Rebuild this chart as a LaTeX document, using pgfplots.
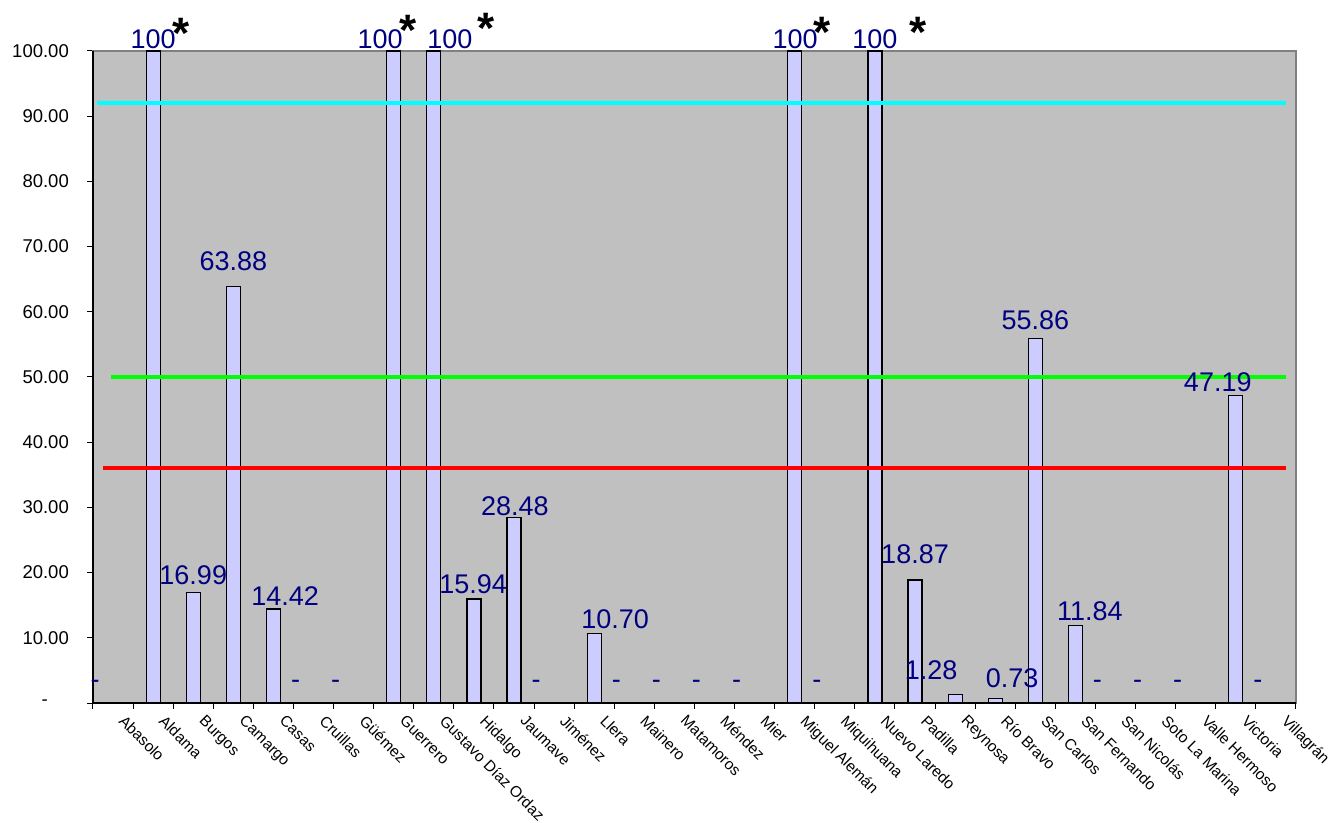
\documentclass[border=0pt]{standalone}
\usepackage{fontspec}
\setmainfont{Liberation Sans}
\usepackage{pgfplots}
\pgfplotsset{compat=1.18}
\definecolor{plotbg}{RGB}{192,192,192}
\definecolor{barfill}{RGB}{204,204,255}
\definecolor{lbl}{RGB}{0,0,128}
\definecolor{framegray}{RGB}{128,128,128}
\definecolor{lcyan}{RGB}{0,255,255}
\definecolor{lgreen}{RGB}{0,255,0}
\definecolor{lred}{RGB}{255,0,0}
\newcommand\lblfont{\fontsize{27}{27}\selectfont}
\newcommand\astfont{\fontsize{44}{44}\selectfont\bfseries}
\tikzset{
  vlab/.style={anchor=base, inner sep=0pt, text=lbl, font=\lblfont},
  ast/.style={anchor=north, inner sep=0pt, text=black, font=\astfont},
}
\begin{document}
\begin{tikzpicture}
\useasboundingbox (0,0) rectangle (1332pt,822pt);
\begin{axis}[
  at={(93pt,119pt)}, anchor=south west,
  scale only axis, width=1203pt, height=652pt,
  xmin=-0.5, xmax=29.5, ymin=0, ymax=100,
  clip=false,
  axis background/.style={fill=plotbg},
  axis line style={draw=framegray, line width=1.5pt},
  xtick={-0.5,0.5,...,29.5}, xticklabels={},
  extra x ticks={0,...,29},
  extra x tick labels={Abasolo,Aldama,Burgos,Camargo,Casas,Cruillas,Güémez,Guerrero,Gustavo Díaz Ordaz,Hidalgo,Jaumave,Jiménez,Llera,Mainero,Matamoros,Méndez,Mier,Miguel Alemán,Miquihuana,Nuevo Laredo,Padilla,Reynosa,Río Bravo,San Carlos,San Fernando,San Nicolás,Soto La Marina,Valle Hermoso,Victoria,Villagrán},
  extra x tick style={major tick length=0pt, tick label style={font=\fontsize{15.5}{15.5}\selectfont, inner sep=0pt, xshift=13pt, yshift=-11pt, rotate=-45, anchor=north west}},
  xtick pos=bottom, ytick pos=left,
  tick align=outside,
  major tick length=6pt,
  tick style={black, line width=1pt},
  ytick={0,10,...,100},
  yticklabels={-\kern21pt,10.00,20.00,30.00,40.00,50.00,60.00,70.00,80.00,90.00,100.00},
  yticklabel style={font=\fontsize{18.5}{18.5}\selectfont, text=black, inner sep=0pt, xshift=-18pt},
]
\addplot[ybar, bar width=14pt, fill=barfill, draw=black, line width=1.2pt] coordinates {
 (0,0) (1,100) (2,16.99) (3,63.88) (4,14.42) (5,0) (6,0) (7,100) (8,100) (9,15.94)
 (10,28.48) (11,0) (12,10.70) (13,0) (14,0) (15,0) (16,0) (17,100) (18,0) (19,100)
 (20,18.87) (21,1.28) (22,0.73) (23,55.86) (24,11.84) (25,0) (26,0) (27,0) (28,47.19) (29,0)};
\addplot[lcyan, line width=4pt] coordinates {(-0.4,92) (29.25,92)};
\addplot[lgreen, line width=4pt] coordinates {(-0.05,50) (29.25,50)};
\addplot[lred, line width=4pt] coordinates {(-0.25,36) (29.25,36)};
\draw[black, line width=1.2pt] (rel axis cs:0,1) -- (rel axis cs:0,0) -- (rel axis cs:1,0);
% value labels
\node[vlab] at (axis cs:1.0,100.38) {100};
\node[vlab] at (axis cs:6.66,100.38) {100};
\node[vlab] at (axis cs:8.40,100.38) {100};
\node[vlab] at (axis cs:17.01,100.38) {100};
\node[vlab] at (axis cs:19.0,100.38) {100};
\node[vlab] at (axis cs:2.0,18.10) {16.99};
\node[vlab] at (axis cs:3.0,66.26) {63.88};
\node[vlab] at (axis cs:4.29,15.03) {14.42};
\node[vlab] at (axis cs:8.98,16.87) {15.94};
\node[vlab] at (axis cs:10.02,28.83) {28.48};
\node[vlab] at (axis cs:12.52,11.50) {10.70};
\node[vlab] at (axis cs:20.0,21.47) {18.87};
\node[vlab] at (axis cs:20.40,3.53) {1.28};
\node[vlab] at (axis cs:22.42,2.45) {0.73};
\node[vlab] at (axis cs:23.0,57.29) {55.86};
\node[vlab] at (axis cs:24.36,12.73) {11.84};
\node[vlab] at (axis cs:27.55,47.85) {47.19};
% zero labels
\node[vlab] at (axis cs:-0.45,2.3) {-};
\node[vlab] at (axis cs:4.55,2.3) {-};
\node[vlab] at (axis cs:5.55,2.3) {-};
\node[vlab] at (axis cs:10.55,2.3) {-};
\node[vlab] at (axis cs:12.55,2.3) {-};
\node[vlab] at (axis cs:13.55,2.3) {-};
\node[vlab] at (axis cs:14.55,2.3) {-};
\node[vlab] at (axis cs:15.55,2.3) {-};
\node[vlab] at (axis cs:17.55,2.3) {-};
\node[vlab] at (axis cs:24.55,2.3) {-};
\node[vlab] at (axis cs:25.55,2.3) {-};
\node[vlab] at (axis cs:26.55,2.3) {-};
\node[vlab] at (axis cs:28.55,2.3) {-};
% asterisks
\node[ast] at (axis cs:1.69,105.06) {*};
\node[ast] at (axis cs:7.355,105.52) {*};
\node[ast] at (axis cs:9.30,105.83) {*};
\node[ast] at (axis cs:17.68,105.21) {*};
\node[ast] at (axis cs:20.07,105.21) {*};
\end{axis}
\end{tikzpicture}
\end{document}
